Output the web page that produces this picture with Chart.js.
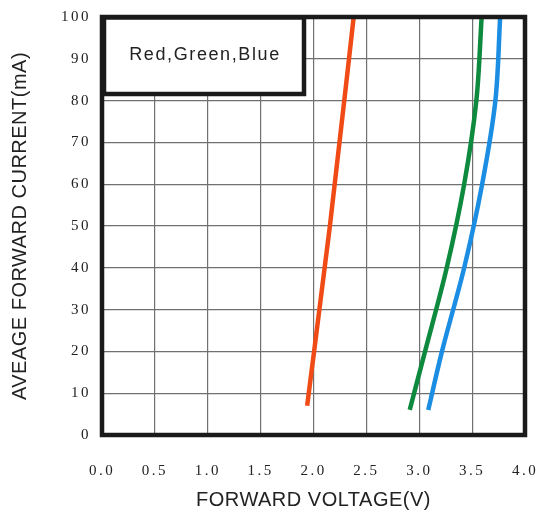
<!DOCTYPE html>
<html>
<head>
<meta charset="utf-8">
<script src="https://cdn.jsdelivr.net/npm/chart.js@4"></script>
<style>
  html, body { margin: 0; padding: 0; background: #fff; }
  #wrap { width: 538px; height: 514px; }
</style>
</head>
<body>
<div id="wrap"><canvas id="ivChart"></canvas></div>
<script>
'use strict';

// forward current (mA)
var currentRed   = [7, 50, 100];
var voltageRed   = [1.94, 2.155, 2.38];

var currentGreen = [6, 20, 40, 60, 80, 100];
var voltageGreen = [2.91, 3.055, 3.26, 3.425, 3.54, 3.59];

var currentBlue  = [6, 20, 40, 60, 80, 100];
var voltageBlue  = [3.085, 3.215, 3.425, 3.595, 3.72, 3.765];

var xTicks = [0, 0.5, 1, 1.5, 2, 2.5, 3, 3.5, 4];
var yTicks = [0, 10, 20, 30, 40, 50, 60, 70, 80, 90, 100];
var legendText = 'Red,Green,Blue';

function toPoints(volts, amps) {
  return volts.map(function (v, i) { return { x: v, y: amps[i] }; });
}

function noScalePadding(scale) {
  scale.paddingLeft = 0;
  scale.paddingRight = 0;
  scale.paddingTop = 0;
  scale.paddingBottom = 0;
}

// thick frame around the plot and the boxed label in the corner
var framePlugin = {
  id: 'frame',
  beforeDraw: function (chart) {
    // axis titles: only a little spacing
    chart.ctx.letterSpacing = '0.5px';
  },
  afterDatasetsDraw: function (chart) {
    var ctx = chart.ctx;
    var a = chart.chartArea;
    ctx.save();
    ctx.strokeStyle = '#1a1a1a';
    ctx.lineWidth = 4.5;
    ctx.strokeRect(a.left, a.top, a.right - a.left, a.bottom - a.top);

    // label box
    ctx.fillStyle = '#fff';
    ctx.fillRect(a.left + 2, a.top + 1, 200, 76);
    ctx.strokeRect(a.left + 2, a.top + 0.5, 200, 76.5);
    ctx.fillStyle = '#222';
    ctx.font = '18px "Liberation Sans", Arial, sans-serif';
    ctx.letterSpacing = '1.6px';
    ctx.textAlign = 'center';
    ctx.textBaseline = 'middle';
    ctx.fillText(legendText, a.left + 103, a.top + 38);
    ctx.restore();
    // tick labels are drawn after this (ticks.z = 1), spaced out like the original
    ctx.letterSpacing = '2.5px';
  }
};

var tickFont = { family: '"Liberation Serif", "Times New Roman", serif', size: 15 };
var titleFont = { family: '"Liberation Sans", Arial, sans-serif', size: 20 };

var ctx = document.getElementById('ivChart').getContext('2d');
var chart = new Chart(ctx, {
  type: 'scatter',
  data: {
    datasets: [
      { label: 'Red', data: toPoints(voltageRed, currentRed), borderColor: '#f04a16' },
      { label: 'Green', data: toPoints(voltageGreen, currentGreen), borderColor: '#0e8a3e' },
      { label: 'Blue', data: toPoints(voltageBlue, currentBlue), borderColor: '#1b8de2' }
    ].map(function (d) {
      d.showLine = true;
      d.pointRadius = 0;
      d.borderWidth = 4.5;
      // voltage as a smooth function of current
      d.indexAxis = 'y';
      d.cubicInterpolationMode = 'monotone';
      return d;
    })
  },
  options: {
    responsive: true,
    maintainAspectRatio: false,
    animation: false,
    layout: { autoPadding: false, padding: { top: 17, right: 13, left: 0, bottom: 0 } },
    plugins: { legend: { display: false }, tooltip: { enabled: false } },
    scales: {
      x: {
        type: 'linear',
        min: 0,
        max: 4,
        afterBuildTicks: function (scale) {
          scale.ticks = xTicks.map(function (v) { return { value: v }; });
        },
        afterFit: function (scale) { scale.height = 79; noScalePadding(scale); },
        grid: { color: '#707070', lineWidth: 1.2, drawTicks: false },
        border: { display: false },
        ticks: {
          z: 1,
          padding: 27,
          color: '#222',
          font: tickFont,
          callback: function (v) { return Number(v).toFixed(1); }
        },
        title: {
          display: true,
          text: 'FORWARD VOLTAGE(V)',
          color: '#222',
          font: titleFont,
          padding: { top: 0, bottom: 2 }
        }
      },
      y: {
        type: 'linear',
        min: 0,
        max: 100,
        afterBuildTicks: function (scale) {
          scale.ticks = yTicks.map(function (v) { return { value: v }; });
        },
        afterFit: function (scale) { scale.width = 102; noScalePadding(scale); },
        grid: { color: '#707070', lineWidth: 1.2, drawTicks: false },
        border: { display: false },
        ticks: {
          z: 1,
          padding: 11,
          color: '#222',
          font: tickFont
        },
        title: {
          display: true,
          text: 'AVEAGE FORWARD CURRENT(mA)',
          color: '#222',
          font: titleFont,
          padding: { top: 8, bottom: 0 }
        }
      }
    }
  },
  plugins: [framePlugin]
});
</script>
</body>
</html>
